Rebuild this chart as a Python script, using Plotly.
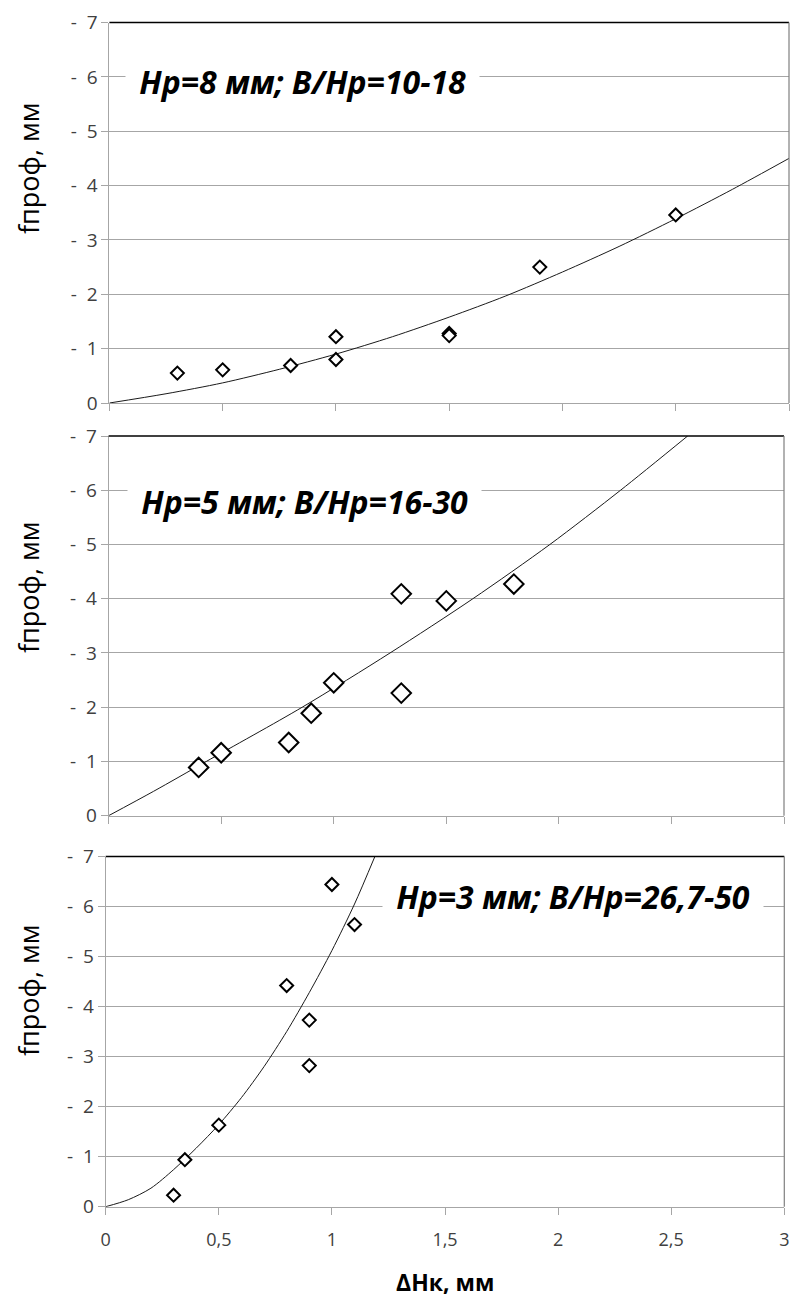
import plotly.graph_objects as go

# ---------------- data ----------------
# Panel 1: Hp=8 mm
p1_x = [0.3, 0.5, 0.8, 1.0, 1.0, 1.5, 1.5, 1.9, 2.5]
p1_y = [0.55, 0.61, 0.69, 1.22, 0.80, 1.28, 1.24, 2.50, 3.46]
fit1_x = [0, 0.25, 0.5, 0.75, 1.0, 1.25, 1.5, 1.75, 2.0, 2.25, 2.5, 2.75, 3.0]
fit1_y = [0, 0.17, 0.37, 0.62, 0.90, 1.22, 1.58, 1.97, 2.41, 2.88, 3.39, 3.93, 4.5]

# Panel 2: Hp=5 mm
p2_x = [0.4, 0.5, 0.8, 0.9, 1.0, 1.3, 1.3, 1.5, 1.8]
p2_y = [0.89, 1.16, 1.35, 1.89, 2.45, 4.09, 2.26, 3.96, 4.27]
fit2_x = [0, 0.2, 0.434, 0.86, 1.25, 1.618, 1.96, 2.274, 2.572]
fit2_y = [0, 0.45, 1.0, 2.0, 3.0, 4.0, 5.0, 6.0, 7.0]

# Panel 3: Hp=3 mm
p3_x = [0.3, 0.35, 0.5, 0.8, 0.9, 0.9, 1.0, 1.1]
p3_y = [0.23, 0.94, 1.63, 4.42, 3.73, 2.82, 6.44, 5.64]
fit3_x = [0, 0.1, 0.2, 0.3, 0.4, 0.5, 0.6, 0.7, 0.8, 0.9, 1.0, 1.1, 1.19]
fit3_y = [0, 0.14, 0.37, 0.74, 1.17, 1.64, 2.18, 2.8, 3.5, 4.28, 5.12, 6.05, 7.0]

labels = ["Hp=8 мм; B/Hp=10-18", "Hp=5 мм; B/Hp=16-30", "Hp=3 мм; B/Hp=26,7-50"]
y_title = "fпроф, мм"
x_title = "ΔHк, мм"

y_tickvals = [0, 1, 2, 3, 4, 5, 6, 7]
y_ticktext = ["0", "- \u00a01", "- \u00a02", "- \u00a03", "- \u00a04",
              "- \u00a05", "- \u00a06", "- \u00a07"]
x_tickvals = [0, 0.5, 1, 1.5, 2, 2.5, 3]
x_ticktext = ["0", "0,5", "1", "1,5", "2", "2,5", "3"]

# ---------------- layout geometry ----------------
W, H = 791, 1303
FONT = "Open Sans, Noto Sans, DejaVu Sans, sans-serif"
GRID = "#a6a6a6"
TXT = "#404040"

def px_x(p):
    return p / W

def px_y(p):
    return 1 - p / H

panels = [
    dict(xd=[px_x(109.4), px_x(789)], yd=[px_y(403), px_y(22.5)],
         px=p1_x, py=p1_y, fx=fit1_x, fy=fit1_y, msize=10, lab=labels[0],
         lx=0.853, ly=5.92, ytc=px_y(168), showx=False),
    dict(xd=[px_x(108.6), px_x(784)], yd=[px_y(815.7), px_y(436)],
         px=p2_x, py=p2_y, fx=fit2_x, fy=fit2_y, msize=15, lab=labels[1],
         lx=0.872, ly=5.80, ytc=px_y(587), showx=False),
    dict(xd=[px_x(105.7), px_x(784.3)], yd=[px_y(1206.7), px_y(856.5)],
         px=p3_x, py=p3_y, fx=fit3_x, fy=fit3_y, msize=10, lab=labels[2],
         lx=2.068, ly=6.20, ytc=px_y(990), showx=True),
]

fig = go.Figure()
annotations = []
shapes = []
layout = {}

for i, p in enumerate(panels, start=1):
    sfx = "" if i == 1 else str(i)
    xa, ya = "x" + sfx, "y" + sfx
    fig.add_trace(go.Scatter(
        x=p["fx"], y=p["fy"], mode="lines", xaxis=xa, yaxis=ya,
        line=dict(color="#1a1a1a", width=1, shape="spline", smoothing=0.8),
        hoverinfo="skip", showlegend=False))
    fig.add_trace(go.Scatter(
        x=p["px"], y=p["py"], mode="markers", xaxis=xa, yaxis=ya,
        marker=dict(symbol="diamond", size=p["msize"], color="white",
                    line=dict(color="black", width=2)),
        showlegend=False))
    layout["xaxis" + sfx] = dict(
        domain=p["xd"], anchor=ya, range=[0, 3], showgrid=False, zeroline=False,
        showline=True, linecolor=GRID, linewidth=1,
        ticks="outside", ticklen=7, tickcolor=GRID, tickwidth=1,
        tickvals=x_tickvals, ticktext=x_ticktext, showticklabels=p["showx"],
        tickfont=dict(family=FONT, size=18, color=TXT), ticklabelstandoff=10,
        automargin=False, fixedrange=True)
    layout["yaxis" + sfx] = dict(
        domain=p["yd"], anchor=xa, range=[0, 7], showgrid=True, gridcolor=GRID,
        gridwidth=1, zeroline=False, showline=True, linecolor=GRID, linewidth=1,
        ticks="outside", ticklen=7, tickcolor=GRID, tickwidth=1,
        tickvals=y_tickvals, ticktext=y_ticktext,
        tickfont=dict(family=FONT, size=19, color=TXT), ticklabelstandoff=0,
        automargin=False, fixedrange=True)
    # top (black) and right (dark grey) borders of the plot area
    shapes.append(dict(type="line", xref=xa + " domain", yref=ya + " domain",
                       x0=0, x1=1, y0=1, y1=1, line=dict(color="black", width=1.3),
                       layer="above"))
    shapes.append(dict(type="line", xref=xa + " domain", yref=ya + " domain",
                       x0=1, x1=1, y0=0, y1=1, line=dict(color="#7f7f7f", width=1.2),
                       layer="above"))
    annotations.append(dict(
        x=p["lx"], y=p["ly"], xref=xa, yref=ya, text="\u00a0" + p["lab"] + "\u00a0",
        showarrow=False, xanchor="center", yanchor="middle",
        font=dict(family=FONT, size=32, color="black", weight="bold", style="italic"),
        bgcolor="white", borderpad=5))
    annotations.append(dict(
        x=px_x(28), y=p["ytc"], xref="paper", yref="paper", text=y_title,
        textangle=-90, showarrow=False, xanchor="center", yanchor="middle",
        font=dict(family=FONT, size=27, color="black")))

annotations.append(dict(
    x=px_x(445), y=px_y(1282), xref="paper", yref="paper", text=x_title,
    showarrow=False, xanchor="center", yanchor="middle",
    font=dict(family=FONT, size=23, color="black", weight="bold")))

fig.update_layout(
    width=W, height=H, margin=dict(l=0, r=0, t=0, b=0),
    paper_bgcolor="white", plot_bgcolor="white",
    annotations=annotations, shapes=shapes, showlegend=False, **layout)

fig.write_html(
    "out.html",
    config={"displayModeBar": False, "staticPlot": True},
    post_script="document.body.style.margin='0px';document.body.style.overflow='hidden';")
